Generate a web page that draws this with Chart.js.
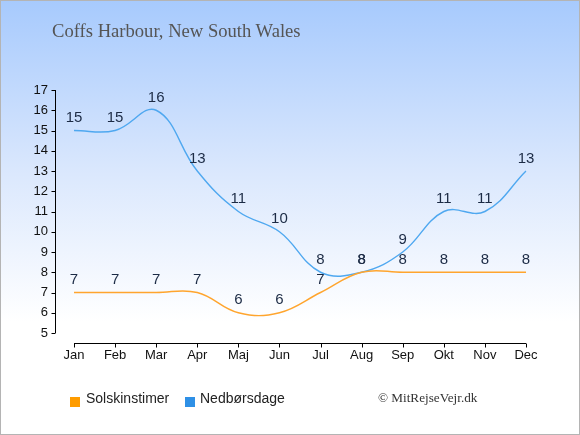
<!DOCTYPE html>
<html><head><meta charset="utf-8">
<script src="https://cdn.jsdelivr.net/npm/chart.js@4"></script>
<style>
html,body{margin:0;padding:0;}
#wrap{position:relative;width:578px;height:433px;border:1px solid #b4b4b4;
 background:linear-gradient(to bottom,#a7cafd 0%,#dbe8fd 40%,#ffffff 74%,#ffffff 100%);overflow:hidden;}
#title{position:absolute;left:51px;top:19px;font-family:"Liberation Serif","DejaVu Serif",serif;font-size:18.6px;color:#555;}
#legend{position:absolute;left:0;top:389px;font-family:"Liberation Sans",Arial,sans-serif;font-size:14px;color:#222;}
.li{position:absolute;white-space:nowrap;}
.sw{position:absolute;top:7px;width:10px;height:10px;}
#copy{position:absolute;left:377px;top:389px;font-family:"Liberation Serif","DejaVu Serif",serif;font-size:13.2px;color:#333;white-space:nowrap;}
canvas{position:absolute;left:0;top:0;}
</style></head>
<body><div id="wrap">
<canvas id="c" width="578" height="433"></canvas>
<div id="title">Coffs Harbour, New South Wales</div>
<div id="legend">
 <div class="li" style="left:69px;"><span class="sw" style="left:0;background:#ff9c00;"></span><span style="position:absolute;left:16px;top:0px;">Solskinstimer</span></div>
 <div class="li" style="left:184px;"><span class="sw" style="left:0;background:#2e90e6;"></span><span style="position:absolute;left:15px;top:0px;">Nedbørsdage</span></div>
</div>
<div id="copy">© MitRejseVejr.dk</div>
</div>
<script>
const months = ["Jan","Feb","Mar","Apr","Maj","Jun","Jul","Aug","Sep","Okt","Nov","Dec"];
const sunHours = [7,7,7,7,6,6,7,8,8,8,8,8];
const rainDays = [15,15,16,13,11,10,8,8,9,11,11,13];
const yTicks = [5,6,7,8,9,10,11,12,13,14,15,16,17];

const axisPlugin = {
  id:'axes',
  afterDraw(chart){
    const ctx = chart.ctx, xs = chart.scales.x, ys = chart.scales.y;
    ctx.save();
    ctx.strokeStyle = '#000'; ctx.lineWidth = 1;
    const ax = 54.5;
    ctx.beginPath();
    ctx.moveTo(ax, ys.getPixelForValue(17)); ctx.lineTo(ax, ys.getPixelForValue(5));
    yTicks.forEach(v=>{ const p=Math.round(ys.getPixelForValue(v))+0.5; ctx.moveTo(ax-4,p); ctx.lineTo(ax,p); });
    const by = Math.round(ys.getPixelForValue(5))+10.5;
    ctx.moveTo(xs.getPixelForValue(0), by); ctx.lineTo(xs.getPixelForValue(months.length-1), by);
    months.forEach((m,i)=>{ const p=Math.round(xs.getPixelForValue(i))+0.5; ctx.moveTo(p,by); ctx.lineTo(p,by+4); });
    ctx.stroke();
    // data labels
    ctx.fillStyle = '#1c2b45';
    ctx.font = '15px "Liberation Sans", Arial, sans-serif';
    ctx.textAlign = 'center'; ctx.textBaseline = 'bottom';
    chart.data.datasets.forEach((ds,di)=>{
      const meta = chart.getDatasetMeta(di);
      meta.data.forEach((pt,i)=>{ ctx.fillText(String(ds.data[i]), pt.x, pt.y - 5); });
    });
    ctx.restore();
  }
};

new Chart(document.getElementById('c'), {
  type:'line',
  data:{ labels: months, datasets:[
    {label:'Solskinstimer', data: sunHours, borderColor:'#ffa52e', borderWidth:1.4, pointRadius:0, tension:0.4, fill:false},
    {label:'Nedbørsdage', data: rainDays, borderColor:'#4fa8f0', borderWidth:1.4, pointRadius:0, tension:0.4, fill:false}
  ]},
  options:{
    responsive:false, animation:false, devicePixelRatio:1,
    layout:{padding:{left:0,right:53,top:89,bottom:0}},
    plugins:{legend:{display:false}, title:{display:false}, tooltip:{enabled:false}},
    scales:{
      x:{ offset:false, grid:{display:false, drawTicks:false}, border:{display:false},
          ticks:{color:'#111', font:{family:'"Liberation Sans", Arial, sans-serif', size:13}, padding:15, maxRotation:0},
          afterFit(s){ s.height = 101; } },
      y:{ min:5, max:17, grid:{display:false, drawTicks:false}, border:{display:false},
          ticks:{stepSize:1, color:'#111', font:{family:'"Liberation Sans", Arial, sans-serif', size:13}, padding:26},
          afterFit(s){ s.width = 73; } }
    }
  },
  plugins:[axisPlugin]
});
</script>
</body></html>
